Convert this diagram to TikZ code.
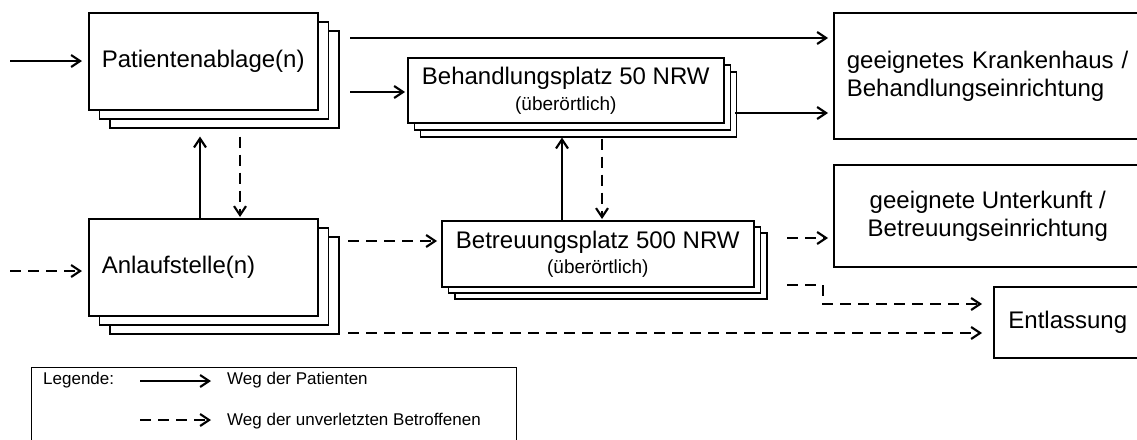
\documentclass[tikz,border=0pt]{standalone}
\usepackage{fontspec}
\setmainfont{Liberation Sans}
\usetikzlibrary{arrows.meta,shadows,calc}
\newcommand\subtxt{\fontsize{19}{22}\selectfont}
\begin{document}
\begin{tikzpicture}[x=1pt,y=-1pt,
  box/.style={draw,line width=1.6pt,fill=white,inner sep=0pt,font=\fontsize{24}{28}\selectfont},
  big/.style={box,minimum width=229pt,minimum height=97pt,text width=203pt,align=left,inner xsep=13pt},
  mid/.style={box,align=center},
  pat/.style={line width=2.1pt,-{Straight Barb[length=9pt,width=12pt,line width=2.1pt]}},
  unv/.style={pat,dash pattern=on 11pt off 7pt},
  ltext/.style={font=\fontsize{17}{20}\selectfont,anchor=west,inner sep=0pt}
]
\clip (0,0) rectangle (1137,439);
\fill[white] (0,0) rectangle (1137,439);

% stacked boxes
\node[big,anchor=north west,
  copy shadow={shadow xshift=21pt,shadow yshift=-18pt,line width=1.6pt},
  copy shadow={shadow xshift=10.5pt,shadow yshift=-9pt,line width=1.6pt}]
  (P) at (88,12) {Patientenablage(n)};
\node[big,anchor=north west,
  copy shadow={shadow xshift=21pt,shadow yshift=-18pt,line width=1.6pt},
  copy shadow={shadow xshift=10.5pt,shadow yshift=-9pt,line width=1.6pt}]
  (A) at (88,218) {Anlaufstelle(n)};
\node[mid,minimum width=316pt,minimum height=65pt,anchor=north west,
  copy shadow={shadow xshift=12.5pt,shadow yshift=-14pt,line width=1.6pt},
  copy shadow={shadow xshift=6.5pt,shadow yshift=-7pt,line width=1.6pt}]
  (B) at (407,57) {Behandlungsplatz 50 NRW\\[-2pt]{\subtxt (überörtlich)}};
\node[mid,minimum width=312pt,minimum height=66pt,anchor=north west,
  copy shadow={shadow xshift=13pt,shadow yshift=-12pt,line width=1.6pt},
  copy shadow={shadow xshift=6.5pt,shadow yshift=-6pt,line width=1.6pt}]
  (T) at (441,220) {Betreuungsplatz 500 NRW\\[-3pt]{\subtxt (überörtlich)}};

% destination boxes
\node[box,anchor=north west,minimum width=310pt,minimum height=126pt,
  text width=284pt,align=left,inner xsep=13pt]
  (K) at (833,12) {geeignetes Krankenhaus /\\Behandlungseinrichtung};
\node[box,anchor=north west,minimum width=308pt,minimum height=102pt,align=center]
  (U) at (833,164) {geeignete Unterkunft /\\Betreuungseinrichtung};
\node[box,anchor=north west,minimum width=148pt,minimum height=71pt,align=center]
  (E) at (993,286) {Entlassung};

% free coordinates
\coordinate (inP) at (10,61);
\coordinate (inA) at (10,271);
\coordinate (pK) at (350,38);
\coordinate (pB) at (350,92);
\coordinate (bK) at (735,113);
\coordinate (aT) at (348,241);
\coordinate (aE) at (348,333);
\coordinate (tU) at (787,238);
\coordinate (tE) at (787,285);
\coordinate (tE2) at (823,304);

% connectors
\draw[pat,shorten >=6pt] (inP) -- (inP -| P.west);
\draw[unv,shorten >=6pt] (inA) -- (inA -| A.west);
\draw[pat,shorten >=5pt] (pK) -- (pK -| K.west);
\draw[pat,shorten >=2pt] (pB) -- (pB -| B.west);
\draw[pat,shorten >=5pt] (bK) -- (bK -| K.west);
\draw[pat,shorten >=26pt] (A.north -| 200,0) -- (P.south -| 200,0);
\draw[unv,shorten <=26pt,shorten >=1pt] (P.south -| 240,0) -- (A.north -| 240,0);
\draw[pat,shorten >=14pt] (T.north -| 562,0) -- (B.south -| 562,0);
\draw[unv,shorten <=15pt,shorten >=1pt] (B.south -| 602,0) -- (T.north -| 602,0);
\draw[unv,shorten >=4pt] (aT) -- (aT -| T.west);
\draw[unv,shorten >=5pt] (tU) -- (tU -| U.west);
\draw[unv,shorten >=11pt] (tE) -| (tE2) -- (tE2 -| E.west);
\draw[unv,shorten >=11pt] (aE) -- (aE -| E.west);

% legend
\node[draw,line width=1.2pt,anchor=north west,minimum width=485pt,minimum height=100pt,inner sep=0pt] (L) at (31,367) {};
\node[ltext] (lg) at (43,380) {Legende:};
\coordinate (l1a) at (140,381);
\coordinate (l1b) at (211,381);
\coordinate (l2a) at (140,420);
\coordinate (l2b) at (211,420);
\draw[pat] (l1a) -- (l1b);
\draw[unv] (l2a) -- (l2b);
\node[ltext] (lt1) at (227,380) {Weg der Patienten};
\node[ltext] (lt2) at (227,421) {Weg der unverletzten Betroffenen};
\end{tikzpicture}
\end{document}
